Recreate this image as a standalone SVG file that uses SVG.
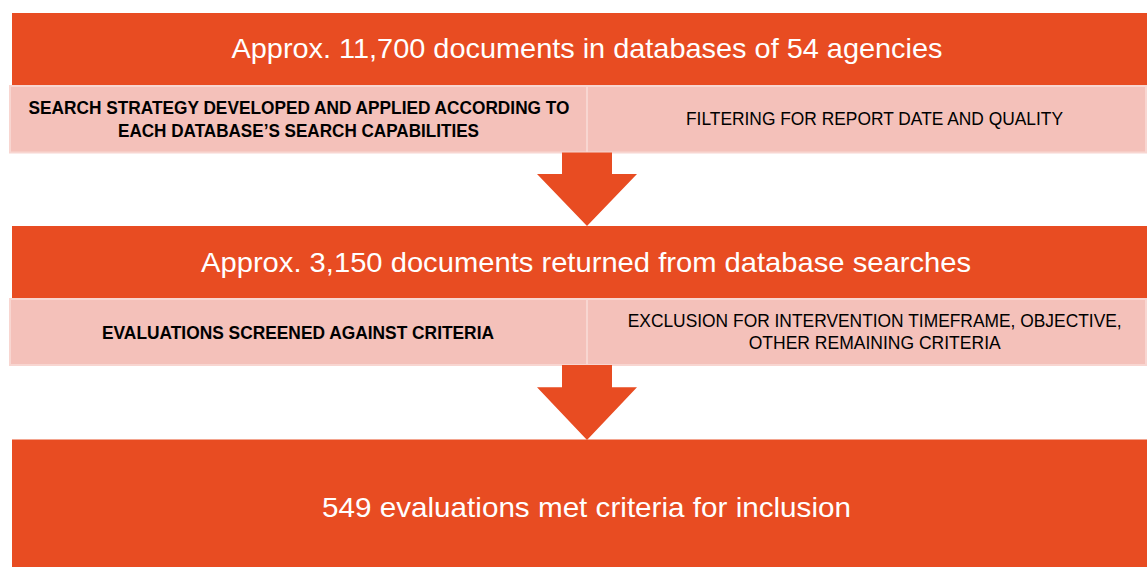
<svg xmlns="http://www.w3.org/2000/svg" width="1147" height="567" viewBox="0 0 1147 567">
<style>
.band{fill:#E84C22;}
.cell{fill:#F4C1BA;stroke:#F8D6D1;stroke-width:2;}
.big{font-family:"Liberation Sans",Arial,sans-serif;font-size:28px;fill:#FFFFFF;text-anchor:middle;}
.sb{font-family:"Liberation Sans",Arial,sans-serif;font-size:19px;font-weight:bold;fill:#000000;text-anchor:middle;}
.sr{font-family:"Liberation Sans",Arial,sans-serif;font-size:19px;fill:#000000;text-anchor:middle;}
.arrow{fill:#E84C22;}
</style>
<rect width="1147" height="567" fill="#FFFFFF"/>
<g id="stage1">
<rect class="band" x="12" y="13" width="1135" height="73"/>
<text class="big" x="587" y="58.3" textLength="711" lengthAdjust="spacingAndGlyphs">Approx. 11,700 documents in databases of 54 agencies</text>
</g>
<g id="step1a">
<rect class="cell" x="10" y="86" width="577" height="66.5"/>
<text class="sb" x="299" y="114" textLength="541" lengthAdjust="spacingAndGlyphs">SEARCH STRATEGY DEVELOPED AND APPLIED ACCORDING TO</text>
<text class="sb" x="298.5" y="136.5" textLength="361" lengthAdjust="spacingAndGlyphs">EACH DATABASE’S SEARCH CAPABILITIES</text>
</g>
<g id="step1b">
<rect class="cell" x="587" y="86" width="559" height="66.5"/>
<text class="sr" x="874.5" y="125.2" textLength="377" lengthAdjust="spacingAndGlyphs">FILTERING FOR REPORT DATE AND QUALITY</text>
</g>
<g id="stage2">
<rect class="band" x="12" y="226" width="1135" height="73"/>
<text class="big" x="586" y="271.5" textLength="770" lengthAdjust="spacingAndGlyphs">Approx. 3,150 documents returned from database searches</text>
</g>
<g id="step2a">
<rect class="cell" x="10" y="299" width="577" height="66"/>
<text class="sb" x="298" y="339.3" textLength="392" lengthAdjust="spacingAndGlyphs">EVALUATIONS SCREENED AGAINST CRITERIA</text>
</g>
<g id="step2b">
<rect class="cell" x="587" y="299" width="559" height="66"/>
<text class="sr" x="874.7" y="327.3" textLength="494" lengthAdjust="spacingAndGlyphs">EXCLUSION FOR INTERVENTION TIMEFRAME, OBJECTIVE,</text>
<text class="sr" x="874.7" y="349.3" textLength="252" lengthAdjust="spacingAndGlyphs">OTHER REMAINING CRITERIA</text>
</g>
<g id="stage3">
<rect class="band" x="12" y="439.5" width="1135" height="128"/>
<text class="big" x="586.5" y="517" textLength="529" lengthAdjust="spacingAndGlyphs">549 evaluations met criteria for inclusion</text>
</g>
<g id="connectors">
<polygon class="arrow" points="562,152.5 612,152.5 612,174 637,174 587,226 537,174 562,174"/>
<polygon class="arrow" points="562,365 612,365 612,387.3 637,387.3 587,440 537,387.3 562,387.3"/>
</g>
</svg>
